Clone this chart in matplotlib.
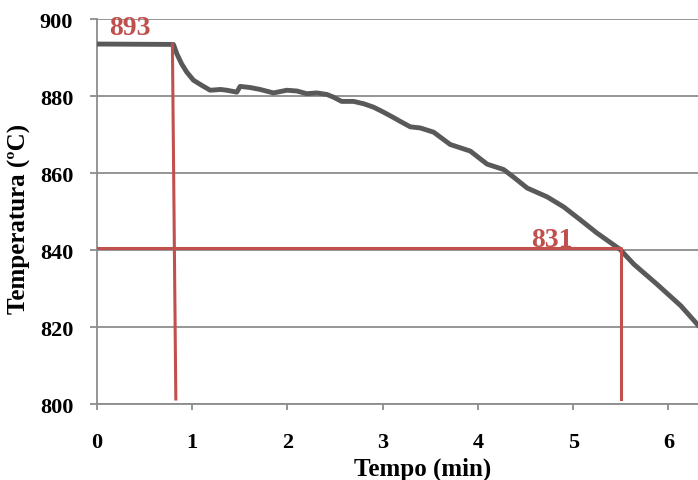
import matplotlib
matplotlib.use("Agg")
import matplotlib.pyplot as plt

plt.rcParams['font.family'] = ['Liberation Serif', 'DejaVu Serif']
plt.rcParams['font.weight'] = 'bold'

# cooling curve (time in min, temperature in C)
tempo = [0.0, 0.805, 0.84, 0.89, 0.945, 1.015, 1.10, 1.19, 1.30, 1.365, 1.47,
         1.505, 1.61, 1.715, 1.855, 1.995, 2.10, 2.205, 2.31, 2.415, 2.485,
         2.57, 2.695, 2.80, 2.905, 3.01, 3.115, 3.186, 3.29, 3.396, 3.536,
         3.71, 3.92, 4.097, 4.27, 4.376, 4.517, 4.727, 4.90, 5.077, 5.25,
         5.49, 5.637, 5.88, 6.13, 6.31]
temperatura = [893.5, 893.4, 891.0, 888.4, 886.2, 884.1, 882.8, 881.5, 881.7,
               881.5, 881.0, 882.5, 882.2, 881.7, 880.8, 881.5, 881.3, 880.6,
               880.8, 880.4, 879.7, 878.6, 878.6, 878.0, 877.1, 875.8, 874.4,
               873.4, 872.0, 871.7, 870.6, 867.4, 865.7, 862.3, 860.9, 858.9,
               856.1, 853.8, 851.2, 847.8, 844.4, 840.2, 836.3, 831.1, 825.5,
               820.5]

# red guide lines
guia1_x = [0.794, 0.83]
guia1_y = [893.5, 801.3]
guia2_x = [0.0, 5.5, 5.5]
guia2_y = [840.4, 840.4, 801.3]

rotulos = ["893", "831"]
rotulos_x = [0.35, 4.78]
rotulos_y = [896.0, 841.0]

cinza = '#595959'
vermelho = '#C0504D'
grade = '#8c8c8c'

fig = plt.figure(figsize=(6.98, 4.81), dpi=100)
ax = fig.add_axes([0.1386, 0.158, 0.8614, 0.8004])

ax.plot(tempo, temperatura, color=cinza, lw=3.5, solid_joinstyle='round', zorder=3)
ax.plot(guia1_x, guia1_y, color=vermelho, lw=2.2, zorder=4)
ax.plot(guia2_x, guia2_y, color=vermelho, lw=2.2, zorder=4)
for txt, x, y in zip(rotulos, rotulos_x, rotulos_y):
    ax.text(x, y, txt, color=vermelho, fontsize=20, fontweight='bold',
            ha='center', va='baseline', zorder=5)

ax.set_xlim(0, 6.31)
ax.set_ylim(800, 900)
ax.set_xticks(range(0, 7))
ax.set_yticks(range(800, 901, 20))
ax.grid(axis='y', color=grade, lw=1.3, zorder=0)
ax.set_axisbelow(True)

for s in ['top', 'right']:
    ax.spines[s].set_visible(False)
for s in ['left', 'bottom']:
    ax.spines[s].set_color(grade)
    ax.spines[s].set_linewidth(1.3)

ax.tick_params(axis='x', length=4, width=1.3, color=grade, pad=16, labelsize=16)
ax.tick_params(axis='y', length=5, width=1.3, color=grade, pad=12, labelsize=16)

ax.set_xlabel('Tempo (min)', fontsize=18, fontweight='bold')
ax.xaxis.set_label_coords(0.542, -0.137)
ax.set_ylabel('Temperatura (ºC)', fontsize=18, fontweight='bold')
ax.yaxis.set_label_coords(-0.11, 0.483)

fig.savefig('out.png', dpi=100)
